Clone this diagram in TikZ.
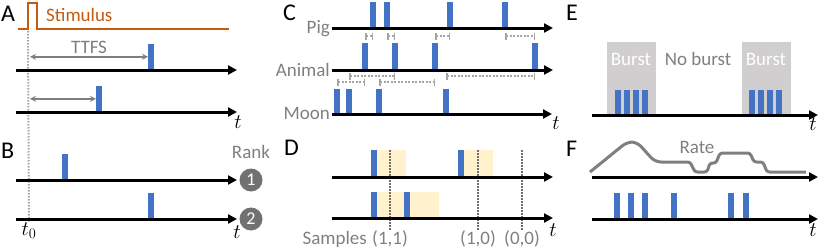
\documentclass[tikz,border=0pt]{standalone}
\usepackage[no-math]{fontspec}
\setmainfont{Carlito}
\usepackage{tikz}
\usetikzlibrary{arrows.meta, positioning, calc}
\definecolor{SpikeBlue}{HTML}{4472C4}
\definecolor{StimOrange}{HTML}{C55A11}
\definecolor{LabelGrey}{HTML}{7F7F7F}
\definecolor{GapGrey}{HTML}{A6A6A6}
\definecolor{SampleGrey}{HTML}{6E6E6E}
\definecolor{BurstGrey}{HTML}{D0CECE}
\definecolor{RankGrey}{HTML}{717171}
\definecolor{WinYellow}{HTML}{FFF2CC}

\begin{document}
\begin{tikzpicture}[x=1pt, y=-1pt,
    every node/.style={font=\fontsize{19}{21}\selectfont, inner sep=0pt},
    panel/.style={font=\fontsize{24}{26}\selectfont, anchor=base west},
    lbl/.style={text=LabelGrey, anchor=base},
    tlab/.style={font=\fontsize{21}{23}\selectfont},
    axis/.style={line width=3pt, -{Triangle[length=9pt, width=9pt]}},
    spike/.style={fill=SpikeBlue, minimum width=6pt, minimum height=26pt, anchor=south west},
    win/.style={fill=WinYellow, minimum width=35pt, minimum height=27pt, anchor=south west},
    burstbox/.style={fill=BurstGrey, minimum width=49pt, minimum height=72pt, anchor=south west},
    rankdot/.style={circle, fill=RankGrey, text=white, minimum size=23pt, font=\fontsize{18}{20}\selectfont},
    stim/.style={draw=StimOrange, line width=2.5pt},
    onsetline/.style={draw=GapGrey, line width=2pt, dash pattern=on 1.5pt off 1.5pt},
    ttfs/.style={draw=LabelGrey, line width=1.5pt, {Stealth[length=6pt, width=6pt]}-{Stealth[length=6pt, width=6pt]}},
    gap/.style={draw=GapGrey, line width=1.5pt, dash pattern=on 2pt off 1.5pt, {Bar[width=7pt]}-{Bar[width=7pt]}},
    samp/.style={draw=SampleGrey, line width=1.5pt, dash pattern=on 1.5pt off 1.5pt},
    rate/.style={draw=LabelGrey, line width=3pt}
  ]
    \useasboundingbox (0,0) rectangle (830,249);

    % A: time to first spike
    \node[panel] (pA) at (1,21) {A};
    \draw[stim] (18,29) -- (28,29) -- (28,3) -- (37,3) -- (37,29) -- (229,29);
    \node[anchor=base west, text=StimOrange] (stimtxt) at (46,21) {Stimulus};
    \node[spike] (sA1) at (148,70) {};
    \node[spike] (sA2) at (96,112) {};
    \coordinate (onset) at (28,31);
    \node[tlab] (tzero) at (29,231) {$t_0$};
    \draw[onsetline] (onset) -- (tzero.north);
    \draw[ttfs, shorten <=2pt] (sA1.west -| onset) -- (sA1.west);
    \draw[ttfs, shorten <=2pt] (sA2.west -| onset) -- (sA2.west);
    \node[lbl] (ttfstxt) at (89,53) {TTFS};

    % B: rank order
    \node[panel] (pB) at (1,158) {B};
    \node[spike] (sB1) at (62,180) {};
    \node[spike] (sB2) at (148,219) {};
    \node[lbl] (ranktxt) at (251,158) {Rank};

    % C: phase between neurons
    \node[panel] (pC) at (283,20) {C};
    \node[lbl, anchor=base east] (pigtxt) at (330,34) {Pig};
    \node[lbl, anchor=base east] (animaltxt) at (330,76) {Animal};
    \node[lbl, anchor=base east] (moontxt) at (330,119) {Moon};
    \foreach \x [count=\i] in {370,384,447,502}
      \node[spike] (pig\i) at (\x,28) {};
    \foreach \x [count=\i] in {362,392,432,532}
      \node[spike, minimum height=27pt] (ani\i) at (\x,70) {};
    \foreach \x [count=\i] in {334,346,376,443}
      \node[spike, minimum height=25pt] (moo\i) at (\x,114) {};
    \draw[gap] (ani1 |- 0,36) -- (pig1 |- 0,36);
    \draw[gap] (pig2 |- 0,36) -- (ani2 |- 0,36);
    \draw[gap] (ani3 |- 0,36) -- (pig3 |- 0,36);
    \draw[gap] (pig4 |- 0,36) -- (ani4 |- 0,36);
    \draw[gap] (moo2 |- 0,76) -- (ani2 |- 0,76);
    \draw[gap] (moo4 |- 0,76) -- (ani4 |- 0,76);
    \draw[gap] (moo1 |- 0,82) -- (ani1 |- 0,82);
    \draw[gap] (moo3 |- 0,82) -- (ani3 |- 0,82);

    % D: binary samples
    \node[panel] (pD) at (284,155) {D};
    \node[win] (w1) at (371,177) {};
    \node[win] (w2) at (458,177) {};
    \node[win, minimum height=26pt] (w3) at (371,218) {};
    \node[win, minimum height=26pt] (w4) at (404,218) {};
    \node[spike, minimum height=27pt] (sD1) at (w1.south west) {};
    \node[spike, minimum height=27pt] (sD2) at (w2.south west) {};
    \node[spike] (sD3) at (w3.south west) {};
    \node[spike] (sD4) at (w4.south west) {};
    \node[lbl] (smp1) at (390,244) {(1,1)};
    \node[lbl] (smp2) at (478,244) {(1,0)};
    \node[lbl] (smp3) at (522,244) {(0,0)};
    \node[lbl, anchor=base east, xshift=-5pt] (smptxt) at (smp1.base west) {Samples};
    \draw[samp] (390,150) coordinate (c1) -- (smp1.north);
    \draw[samp] (478,150) coordinate (c2) -- (smp2.north);
    \draw[samp] (522,150) coordinate (c3) -- (smp3.north);

    % E: bursts
    \node[panel] (pE) at (566,20) {E};
    \node[burstbox] (bb1) at (607,114) {};
    \node[burstbox] (bb2) at (742,114) {};
    \node[anchor=base, text=white] (bt1) at (631,65) {Burst};
    \node[anchor=base, text=white] (bt2) at (766,65) {Burst};
    \node[lbl] (nobt) at (698,65) {No burst};
    \foreach \x [count=\i] in {615,624,633,642,749,758,767,776}
      \node[spike, minimum height=24pt] (sE\i) at (\x,114) {};

    % F: rate
    \node[panel] (pF) at (566,156) {F};
    \draw[rate] (590,172) [rounded corners=6pt] -- (627,142) -- (637,142) -- (655,162)
      [rounded corners=2.5pt] -- (690,162) -- (695,172) -- (707,172) -- (710,163) -- (716,163)
      -- (720,153) -- (750,153) -- (754,162) -- (763,162) -- (767,172) -- (806,172);
    \node[lbl] (ratetxt) at (697,153) {Rate};
    \foreach \x [count=\i] in {614,628,642,671,728,743}
      \node[spike] (sF\i) at (\x,219) {};

    % time axes
    \foreach \n/\xa/\xb/\y in {A1/16/237/70, A2/16/237/112, B1/16/237/180, B2/16/237/219,
        C1/332/553/28, C2/332/553/70, C3/332/552/114, D1/332/553/177, D2/332/553/218,
        E1/592/818/115, F1/592/818/177, F2/592/818/219}
      \draw[axis] (\xa,\y) coordinate (ax\n s) -- (\xb,\y) coordinate (ax\n e);

    \node[rankdot] (r1) at (251,180) {1};
    \node[rankdot] (r2) at (251,219) {2};

    \node[tlab] (tA) at (238,122) {$t$};
    \node[tlab] (tB) at (237,232) {$t$};
    \node[tlab] (tC) at (556,123) {$t$};
    \node[tlab] (tD) at (553,230) {$t$};
    \node[tlab] (tE) at (813,124) {$t$};
    \node[tlab] (tF) at (813,230) {$t$};
  \end{tikzpicture}
\end{document}
